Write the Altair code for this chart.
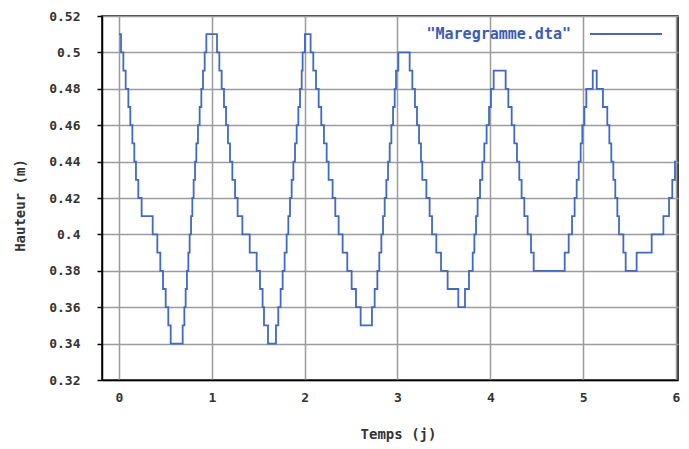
import altair as alt
import pandas as pd

# Time (days) at which each water-level step begins, and the level (m)
times = [
    0.000, 0.022, 0.047, 0.072, 0.101, 0.122, 0.144, 0.165, 0.183, 0.208,
    0.244, 0.363, 0.413, 0.445, 0.474, 0.503, 0.531, 0.557, 0.686, 0.704,
    0.718, 0.732, 0.747, 0.761, 0.776, 0.790, 0.804, 0.819, 0.833, 0.851,
    0.869, 0.887, 0.905, 0.923, 0.941, 1.056, 1.081, 1.106, 1.131, 1.153,
    1.174, 1.196, 1.221, 1.250, 1.278, 1.329, 1.408, 1.483, 1.519, 1.547,
    1.562, 1.605, 1.691, 1.716, 1.741, 1.763, 1.784, 1.806, 1.824, 1.842,
    1.860, 1.878, 1.896, 1.914, 1.932, 1.950, 1.968, 1.978, 2.003, 2.064,
    2.093, 2.122, 2.151, 2.179, 2.208, 2.237, 2.258, 2.301, 2.330, 2.366,
    2.409, 2.459, 2.506, 2.553, 2.603, 2.725, 2.754, 2.783, 2.804, 2.826,
    2.844, 2.862, 2.880, 2.898, 2.916, 2.934, 2.952, 2.970, 2.984, 3.009,
    3.131, 3.160, 3.188, 3.210, 3.232, 3.253, 3.267, 3.311, 3.346, 3.372,
    3.418, 3.469, 3.540, 3.655, 3.727, 3.770, 3.810, 3.828, 3.846, 3.863,
    3.889, 3.914, 3.935, 3.960, 3.986, 4.007, 4.036, 4.165, 4.194, 4.230,
    4.258, 4.287, 4.312, 4.337, 4.366, 4.402, 4.438, 4.467, 4.801, 4.844,
    4.880, 4.908, 4.930, 4.952, 4.973, 4.991, 5.013, 5.034, 5.103, 5.146,
    5.213, 5.260, 5.282, 5.303, 5.325, 5.346, 5.368, 5.386, 5.433, 5.458,
    5.576, 5.738, 5.864, 5.925, 5.960, 5.989, 6.000,
]
heights = [
    0.51, 0.50, 0.49, 0.48, 0.47, 0.46, 0.45, 0.44, 0.43, 0.42,
    0.41, 0.40, 0.39, 0.38, 0.37, 0.36, 0.35, 0.34, 0.35, 0.36,
    0.37, 0.38, 0.39, 0.40, 0.41, 0.42, 0.43, 0.44, 0.45, 0.46,
    0.47, 0.48, 0.49, 0.50, 0.51, 0.50, 0.49, 0.48, 0.47, 0.46,
    0.45, 0.44, 0.43, 0.42, 0.41, 0.40, 0.39, 0.38, 0.37, 0.36,
    0.35, 0.34, 0.35, 0.36, 0.37, 0.38, 0.39, 0.40, 0.41, 0.42,
    0.43, 0.44, 0.45, 0.46, 0.47, 0.48, 0.49, 0.50, 0.51, 0.50,
    0.49, 0.48, 0.47, 0.46, 0.45, 0.44, 0.43, 0.42, 0.41, 0.40,
    0.39, 0.38, 0.37, 0.36, 0.35, 0.36, 0.37, 0.38, 0.39, 0.40,
    0.41, 0.42, 0.43, 0.44, 0.45, 0.46, 0.47, 0.48, 0.49, 0.50,
    0.49, 0.48, 0.47, 0.46, 0.45, 0.44, 0.43, 0.42, 0.41, 0.40,
    0.39, 0.38, 0.37, 0.36, 0.37, 0.38, 0.39, 0.40, 0.41, 0.42,
    0.43, 0.44, 0.45, 0.46, 0.47, 0.48, 0.49, 0.48, 0.47, 0.46,
    0.45, 0.44, 0.43, 0.42, 0.41, 0.40, 0.39, 0.38, 0.39, 0.40,
    0.41, 0.42, 0.43, 0.44, 0.45, 0.46, 0.47, 0.48, 0.49, 0.48,
    0.47, 0.46, 0.45, 0.44, 0.43, 0.42, 0.41, 0.40, 0.39, 0.38,
    0.39, 0.40, 0.41, 0.42, 0.43, 0.44, 0.44,
]
series_name = '"Maregramme.dta"'
x_ticks = [0, 1, 2, 3, 4, 5, 6]
y_ticks = [0.32, 0.34, 0.36, 0.38, 0.40, 0.42, 0.44, 0.46, 0.48, 0.50, 0.52]

df = pd.DataFrame({"t": times, "h": heights, "s": [series_name] * len(times)})

FONT = "DejaVu Sans Mono"
BLUE = "#4169c4"

chart = alt.Chart(df).mark_line(
    interpolate="step-after", strokeWidth=1.8
).encode(
    x=alt.X("t:Q", scale=alt.Scale(domain=[-0.183, 6.0215], nice=False, zero=False),
            axis=alt.Axis(values=x_ticks, title="Temps (j)", format="d",
                          ticks=False, labelPadding=11,
                          titleX=296, titleY=54, titleBaseline="middle")),
    y=alt.Y("h:Q", scale=alt.Scale(domain=[0.32, 0.52], nice=False, zero=False),
            axis=alt.Axis(values=y_ticks, title="Hauteur (m)", format=".2~f",
                          tickSize=5, labelPadding=17,
                          titleX=-82, titleY=189, titleBaseline="middle")),
    color=alt.Color("s:N", scale=alt.Scale(domain=[series_name], range=[BLUE]),
                    legend=alt.Legend(title=None, orient="none", legendX=487, legendY=-19,
                                      symbolType="stroke", symbolSize=5184,
                                      symbolStrokeWidth=2, labelAlign="right",
                                      labelOffset={"expr": "-92"}, labelFont=FONT,
                                      labelFontWeight="bold", labelFontSize=15,
                                      labelColor="#3a5cb8", labelLimit=0, padding=0)),
).properties(
    width=576, height=364,
    autosize=alt.AutoSizeParams(type="none"),
    padding={"left": 94, "top": 8, "right": 3, "bottom": 66},
    background="white",
).configure_view(
    stroke="black", strokeWidth=1.5
).configure_axis(
    labelFont=FONT, labelFontWeight="bold", labelFontSize=13, labelColor="#333333",
    titleFont=FONT, titleFontWeight="bold", titleFontSize=14, titleColor="#333333",
    gridColor="#9c9c9c", gridWidth=1.5, gridOpacity=1,
    domainColor="black", domainWidth=1.5, tickColor="black", tickWidth=1.5,
)

chart.save("out.html", embed_options={"renderer": "svg", "actions": False})
